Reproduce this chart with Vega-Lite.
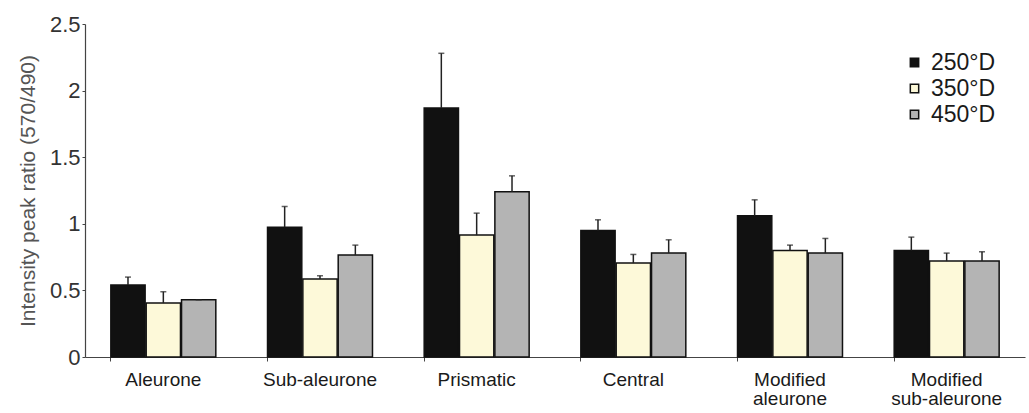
{
  "$schema": "https://vega.github.io/schema/vega-lite/v6.json",
  "width": 940,
  "height": 333,
  "autosize": "none",
  "padding": {"left": 85, "top": 24, "right": 4, "bottom": 56},
  "background": "white",
  "config": {"view": {"stroke": null}, "font": "Liberation Sans"},
  "data": {"values": [
    {"region": "Aleurone", "temp": "250°D", "mean": 0.54, "upper": 0.60},
    {"region": "Aleurone", "temp": "350°D", "mean": 0.405, "upper": 0.49},
    {"region": "Aleurone", "temp": "450°D", "mean": 0.43, "upper": 0.43},
    {"region": "Sub-aleurone", "temp": "250°D", "mean": 0.975, "upper": 1.13},
    {"region": "Sub-aleurone", "temp": "350°D", "mean": 0.585, "upper": 0.61},
    {"region": "Sub-aleurone", "temp": "450°D", "mean": 0.765, "upper": 0.84},
    {"region": "Prismatic", "temp": "250°D", "mean": 1.87, "upper": 2.28},
    {"region": "Prismatic", "temp": "350°D", "mean": 0.915, "upper": 1.08},
    {"region": "Prismatic", "temp": "450°D", "mean": 1.24, "upper": 1.36},
    {"region": "Central", "temp": "250°D", "mean": 0.95, "upper": 1.03},
    {"region": "Central", "temp": "350°D", "mean": 0.705, "upper": 0.77},
    {"region": "Central", "temp": "450°D", "mean": 0.78, "upper": 0.88},
    {"region": "Modified aleurone", "temp": "250°D", "mean": 1.06, "upper": 1.18},
    {"region": "Modified aleurone", "temp": "350°D", "mean": 0.80, "upper": 0.84},
    {"region": "Modified aleurone", "temp": "450°D", "mean": 0.78, "upper": 0.89},
    {"region": "Modified sub-aleurone", "temp": "250°D", "mean": 0.80, "upper": 0.90},
    {"region": "Modified sub-aleurone", "temp": "350°D", "mean": 0.72, "upper": 0.78},
    {"region": "Modified sub-aleurone", "temp": "450°D", "mean": 0.72, "upper": 0.79}
  ]},
  "encoding": {
    "x": {
      "field": "region", "type": "nominal", "sort": null,
      "scale": {"paddingInner": 0.33, "paddingOuter": 0.165},
      "axis": {
        "title": null, "labelAngle": 0, "bandPosition": 0,
        "labelFontSize": 19, "labelColor": "#1a1a1a", "labelPadding": 9, "labelLineHeight": 19,
        "tickSize": 4, "tickColor": "#444", "domainColor": "#444", "domainWidth": 1.2,
        "labelExpr": "datum.value == 'Modified aleurone' ? ['Modified', 'aleurone'] : datum.value == 'Modified sub-aleurone' ? ['Modified', 'sub-aleurone'] : datum.value"
      }
    },
    "xOffset": {"field": "temp", "type": "nominal", "scale": {"paddingInner": 0.03}}
  },
  "layer": [
    {
      "mark": {"type": "bar", "stroke": "#111", "strokeWidth": 1.5},
      "encoding": {
        "y": {
          "field": "mean", "type": "quantitative",
          "scale": {"domain": [0, 2.5], "nice": false},
          "axis": {
            "title": "Intensity peak ratio (570/490)", "titleFontSize": 21, "titleFontWeight": "normal",
            "titleColor": "#555", "titlePadding": 11,
            "values": [0, 0.5, 1, 1.5, 2, 2.5], "labelExpr": "datum.value == 0 ? '0' : format(datum.value, '')",
            "labelFontSize": 22, "labelColor": "#333", "grid": false, "tickSize": 3,
            "tickColor": "#444", "domainColor": "#444", "domainWidth": 1.2, "labelPadding": 2
          }
        },
        "fill": {
          "field": "temp", "type": "nominal",
          "scale": {"domain": ["250°D", "350°D", "450°D"], "range": ["#111111", "#fdf9d9", "#b4b4b4"]},
          "legend": {
            "title": null, "orient": "none", "legendX": 818, "legendY": 27,
            "symbolType": "square", "symbolSize": 70, "symbolStrokeColor": "#111", "symbolStrokeWidth": 1.5,
            "labelFontSize": 23, "labelColor": "#1a1a1a", "rowPadding": 2, "labelOffset": 5
          }
        }
      }
    },
    {
      "mark": {"type": "rule", "color": "#222", "strokeWidth": 1.5},
      "encoding": {
        "y": {"field": "mean", "type": "quantitative"},
        "y2": {"field": "upper"}
      }
    },
    {
      "mark": {"type": "tick", "color": "#222", "thickness": 1.5, "size": 6},
      "encoding": {
        "y": {"field": "upper", "type": "quantitative"}
      }
    }
  ]
}
